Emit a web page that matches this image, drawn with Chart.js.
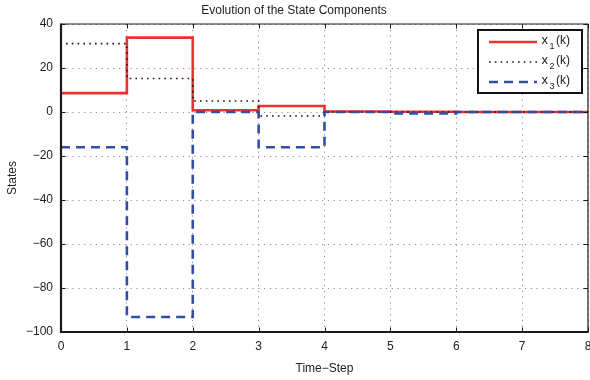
<!DOCTYPE html>
<html>
<head>
<meta charset="utf-8">
<style>
  html, body { margin: 0; padding: 0; background: #fff; }
  #wrap { width: 590px; height: 380px; }
</style>
<script src="https://cdn.jsdelivr.net/npm/chart.js@4/dist/chart.umd.min.js"></script>
</head>
<body>
<div id="wrap"><canvas id="c" width="590" height="380"></canvas></div>
<script>
// ---- data ----
const timeSteps = [0, 1, 2, 3, 4, 5, 6, 7, 8];
const x1 = [8.6, 33.8, 0.8, 2.7, 0.2, 0.1, 0, 0, 0];
const x2 = [31.1, 15.2, 5.0, -1.8, 0, 0, 0, 0, 0];
const x3 = [-16, -93.2, 0, -16, 0, -0.7, 0, 0, 0];
const seriesNames = ['x', 'x', 'x'];
const seriesSubs = ['1', '2', '3'];
const xTicks = [0, 1, 2, 3, 4, 5, 6, 7, 8];
const yTicks = [-100, -80, -60, -40, -20, 0, 20, 40];
const chartTitle = 'Evolution of the State Components';
const xTitle = 'Time\u2212Step';
const yTitle = 'States';

const FONT = '"Liberation Sans", Arial, Helvetica, sans-serif';
const TXT = '#222';
const toPts = (arr) => timeSteps.map((t, i) => ({ x: t, y: arr[i] }));
const fmt = (v) => String(v).replace('-', '\u2212');

// Frame + inward ticks (MATLAB style)
const framePlugin = {
  id: 'frame',
  afterDraw(chart) {
    const { ctx, chartArea: a, scales } = chart;
    ctx.save();
    ctx.strokeStyle = '#1a1a1a';
    ctx.lineCap = 'butt';
    ctx.lineWidth = 1;
    const tl = 4.5;
    xTicks.forEach(v => {
      const px = Math.round(scales.x.getPixelForValue(v)) + 0.5;
      ctx.beginPath();
      ctx.moveTo(px, a.bottom); ctx.lineTo(px, a.bottom - tl);
      ctx.moveTo(px, a.top); ctx.lineTo(px, a.top + tl);
      ctx.stroke();
    });
    yTicks.forEach(v => {
      const py = Math.round(scales.y.getPixelForValue(v)) + 0.5;
      ctx.beginPath();
      ctx.moveTo(a.left, py); ctx.lineTo(a.left + tl, py);
      ctx.moveTo(a.right, py); ctx.lineTo(a.right - tl, py);
      ctx.stroke();
    });
    ctx.lineWidth = 1.2;
    ctx.beginPath();
    ctx.moveTo(a.left, a.top); ctx.lineTo(a.right, a.top); ctx.lineTo(a.right, a.bottom);
    ctx.stroke();
    ctx.lineWidth = 2.2;
    ctx.beginPath();
    ctx.moveTo(a.left, a.top - 0.6); ctx.lineTo(a.left, a.bottom); ctx.lineTo(a.right + 0.6, a.bottom);
    ctx.stroke();
    ctx.restore();
  }
};

// Legend box in upper right, drawn from the datasets
const legendPlugin = {
  id: 'boxLegend',
  afterDraw(chart) {
    const { ctx } = chart;
    const bx = 478, by = 30, bw = 104, bh = 63;
    ctx.save();
    ctx.fillStyle = '#fff';
    ctx.fillRect(bx, by, bw, bh);
    ctx.lineWidth = 2;
    ctx.strokeStyle = '#111';
    ctx.strokeRect(bx, by, bw, bh);
    const rows = [42, 62, 82];
    chart.data.datasets.forEach((ds, i) => {
      const y = rows[i];
      ctx.save();
      ctx.strokeStyle = ds.borderColor;
      ctx.lineWidth = ds.borderWidth;
      ctx.setLineDash(ds.borderDash || []);
      ctx.beginPath();
      ctx.moveTo(489, y); ctx.lineTo(537, y);
      ctx.stroke();
      ctx.restore();
      ctx.fillStyle = TXT;
      ctx.textBaseline = 'middle';
      ctx.textAlign = 'left';
      ctx.font = '13px ' + FONT;
      ctx.fillText(seriesNames[i], 541.5, y - 1.5);
      ctx.font = '9px ' + FONT;
      ctx.fillText(seriesSubs[i], 549.5, y + 4.5);
      ctx.font = '12px ' + FONT;
      ctx.fillText('(k)', 556, y - 1);
    });
    ctx.restore();
  }
};

new Chart(document.getElementById('c'), {
  type: 'line',
  data: {
    datasets: [
      { label: 'x1(k)', data: toPts(x1), borderColor: 'rgb(238,48,48)', borderWidth: 2.6,
        borderDash: [], stepped: true, pointRadius: 0, order: 2 },
      { label: 'x2(k)', data: toPts(x2), borderColor: '#151515', borderWidth: 1.6,
        borderDash: [1.6, 4.2], borderDashOffset: -5, stepped: true, pointRadius: 0, order: 1 },
      { label: 'x3(k)', data: toPts(x3), borderColor: 'rgb(48,78,168)', borderWidth: 2.6,
        borderDash: [9, 6], stepped: true, pointRadius: 0, order: 0 }
    ]
  },
  options: {
    responsive: false,
    animation: false,
    layout: { padding: { left: 0, right: 2, top: 0, bottom: 0 } },
    plugins: {
      legend: { display: false },
      tooltip: { enabled: false },
      title: {
        display: true, text: chartTitle, color: TXT,
        font: { family: FONT, size: 12, weight: 'normal', lineHeight: 1.2 },
        padding: { top: 3, bottom: 6.6 }
      }
    },
    scales: {
      x: {
        type: 'linear', min: 0, max: 8,
        afterBuildTicks: (s) => { s.ticks = xTicks.map(v => ({ value: v })); },
        ticks: { color: TXT, font: { family: FONT, size: 12 }, padding: 7,
                 maxRotation: 0, autoSkip: false, callback: fmt },
        grid: { display: true, drawTicks: false, color: 'rgba(120,120,120,0.8)', lineWidth: 1 },
        border: { display: false, dash: [1.3, 4.5] },
        title: { display: true, text: xTitle, color: TXT,
                 font: { family: FONT, size: 12, lineHeight: 1.2 }, padding: { top: 0, bottom: 4 } },
        afterFit: (s) => { s.height = 48; s.paddingLeft = 0; s.paddingRight = 0; }
      },
      y: {
        type: 'linear', min: -100, max: 40,
        afterBuildTicks: (s) => { s.ticks = yTicks.map(v => ({ value: v })); },
        ticks: { color: TXT, font: { family: FONT, size: 12 }, padding: 8, callback: fmt },
        grid: { display: true, drawTicks: false, color: 'rgba(120,120,120,0.8)', lineWidth: 1 },
        border: { display: false, dash: [1.3, 4.5] },
        title: { display: true, text: yTitle, color: TXT,
                 font: { family: FONT, size: 12, lineHeight: 1.2 }, padding: { top: 5, bottom: 0 } },
        afterFit: (s) => { s.width = 61; s.paddingTop = 0; s.paddingBottom = 0; }
      }
    }
  },
  plugins: [framePlugin, legendPlugin]
});
</script>
</body>
</html>
